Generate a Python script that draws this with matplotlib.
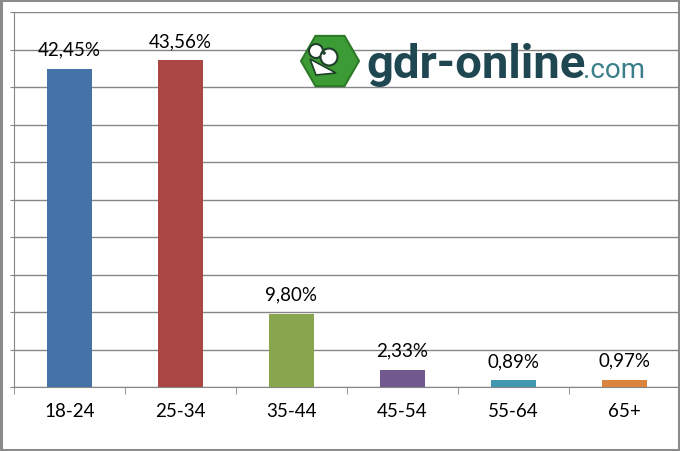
import numpy as np
import matplotlib
matplotlib.use("Agg")
from matplotlib import pyplot as plt
from matplotlib.patches import Rectangle, RegularPolygon, Circle, Polygon

categories = ["18-24", "25-34", "35-44", "45-54", "55-64", "65+"]
values = [42.45, 43.56, 9.80, 2.33, 0.89, 0.97]
labels = ["42,45%", "43,56%", "9,80%", "2,33%", "0,89%", "0,97%"]
colors = ["#4572A7", "#AA4643", "#89A54E", "#71588F", "#4198AF", "#DB843D"]

plt.rcParams['font.family'] = ['Lato', 'DejaVu Sans']
grid_c = "#868686"

fig = plt.figure(figsize=(6.8, 4.52), dpi=100)
ax = fig.add_axes([14 / 680, 1 - 388 / 452, 666 / 680, 375 / 452])

x = np.arange(len(categories))
ax.bar(x, values, width=0.4, color=colors, zorder=3)
for xi, v, lab in zip(x, values, labels):
    ax.annotate(lab, (xi, v), xytext=(0, 8), textcoords="offset points",
                ha="center", va="bottom", fontsize=13.5, color="#000000")

ax.set_xlim(-0.5, 5.5)
ax.set_ylim(0, 50)
ax.set_yticks(np.arange(0, 51, 5))
ax.set_yticklabels([])
ax.yaxis.grid(True, color=grid_c, linewidth=1)
ax.set_axisbelow(True)
ax.tick_params(axis="y", length=3, color=grid_c)

ax.set_xticks(x)
ax.set_xticklabels(categories, fontsize=13.5)
ax.set_xticks(np.arange(-0.5, 6, 1), minor=True)
ax.tick_params(axis="x", which="major", length=0, pad=11)
ax.tick_params(axis="x", which="minor", length=5, color=grid_c)

for s in ["top", "right"]:
    ax.spines[s].set_visible(False)
for s in ["left", "bottom"]:
    ax.spines[s].set_color(grid_c)

# logo
lax = fig.add_axes([296 / 680, 1 - 94 / 452, 68 / 680, 64 / 452])
lax.set_xlim(-34, 34)
lax.set_ylim(-32, 32)
lax.set_aspect("equal")
lax.axis("off")
lax.add_patch(RegularPolygon((0, 0), 6, radius=29, orientation=np.pi / 6,
                             facecolor="#3d9b35", edgecolor="#2c7a28", linewidth=1.5))
lax.add_patch(Polygon([(-20, 2), (6, -12), (-14, -14)], closed=True,
                      facecolor="white", edgecolor="#1f3f2a", linewidth=1.2))
lax.add_patch(Circle((-14, 10), 7, facecolor="white", edgecolor="#1f3f2a", linewidth=1.5))
lax.add_patch(Circle((-1, 4), 8.5, facecolor="white", edgecolor="#1f3f2a", linewidth=1.5))
lax.add_patch(Circle((-6, 8), 1.8, facecolor="#1f3f2a"))

fig.text(366 / 680, 1 - 78 / 452, "gdr-online", fontsize=34, fontweight="bold",
         family="Roboto", color="#1f4752", va="baseline")
fig.text(583 / 680, 1 - 78 / 452, ".com", fontsize=20,
         family="Roboto", color="#3b7f8a", va="baseline")

fig.add_artist(Rectangle((0.0015, 0.002), 0.997, 0.996, transform=fig.transFigure,
                         fill=False, edgecolor="#8a8a8a", linewidth=2.2))

fig.savefig("out.png", dpi=100)
